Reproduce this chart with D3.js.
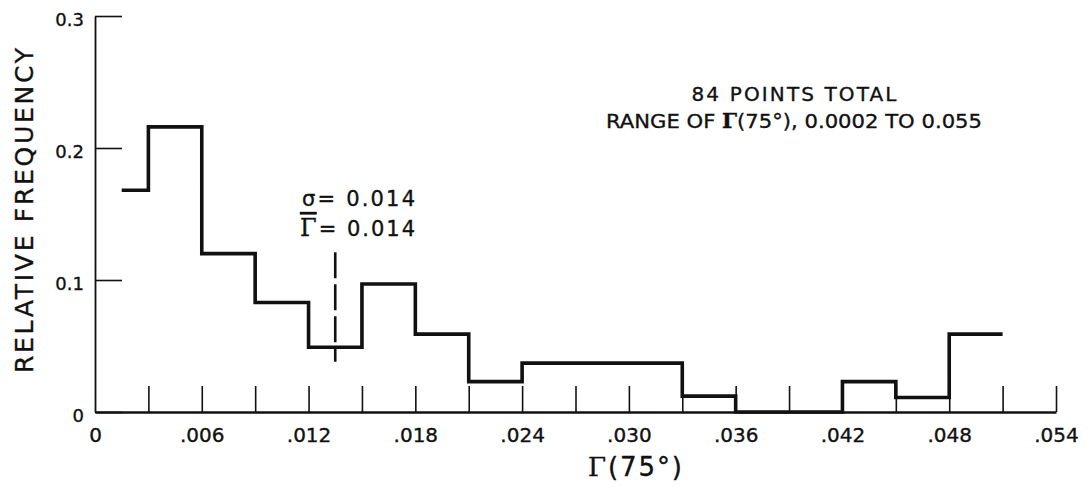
<!DOCTYPE html>
<html>
<head>
<meta charset="utf-8">
<script src="https://cdn.jsdelivr.net/npm/d3@7"></script>
<style>
  body { margin: 0; background: #fff; }
  svg text { font-family: "DejaVu Sans", sans-serif; fill: #111; stroke: #111; stroke-width: 0.35px; }
</style>
</head>
<body>
<svg id="chart" width="1091" height="487"></svg>
<script>
// bin left edges, the last entry is the right end of the final bin
const binEdges = [0.0015, 0.003, 0.006, 0.009, 0.012, 0.015, 0.018, 0.021, 0.024,
                  0.027, 0.030, 0.033, 0.036, 0.039, 0.042, 0.045, 0.048, 0.051];
// relative frequency for each bin
const relFreq = [0.168, 0.216, 0.120, 0.083, 0.049, 0.097, 0.059, 0.023, 0.037,
                 0.037, 0.037, 0.012, 0, 0, 0.023, 0.011, 0.059];

const xTicks = d3.range(1, 19).map(i => +(i * 0.003).toFixed(3));
const xLabels = [0, 0.006, 0.012, 0.018, 0.024, 0.030, 0.036, 0.042, 0.048, 0.054];
const yTicks = [0, 0.1, 0.2, 0.3];
const meanValue = 0.0135;   // where the dashed mean line sits
const notes = ["84 POINTS TOTAL", "RANGE OF ", "Γ", "(75°), 0.0002 TO 0.055"];

const svg = d3.select('#chart');

let x = d3.scaleLinear().domain([0, 0.054]).range([95, 1056]);
let y = d3.scaleLinear().domain([0, 0.3]).range([412, 16]);

// x axis: ticks every .003 pointing up, labels every .006
let xAxisTicks = d3.axisBottom(x).tickValues(xTicks).tickSize(-26)
    .tickSizeOuter(0).tickFormat('');
let gx = svg.append('g').attr('transform', 'translate(0,412)').call(xAxisTicks);
gx.select('.domain').attr('stroke-width', 2.4).attr('stroke', '#111');
gx.selectAll('.tick line').attr('stroke-width', 1.6).attr('stroke', '#111');

let xAxisLabels = d3.axisBottom(x).tickValues(xLabels).tickSize(0).tickPadding(16)
    .tickFormat(d => d === 0 ? '0' : d3.format('.3f')(d).replace(/^0/, ''));
let gxl = svg.append('g').attr('transform', 'translate(0,412)').call(xAxisLabels);
gxl.select('.domain').remove();
gxl.selectAll('text').attr('font-family', 'DejaVu Sans').attr('font-size', 20)
    .attr('fill', '#111');

// y axis: ticks pointing right
let yAxis = d3.axisLeft(y).tickValues(yTicks).tickSize(-27).tickSizeOuter(0)
    .tickPadding(11).tickFormat(d => d === 0 ? '0' : d3.format('.1f')(d));
let gy = svg.append('g').attr('transform', 'translate(95,0)').call(yAxis);
gy.select('.domain').attr('stroke-width', 1.8).attr('stroke', '#111');
gy.selectAll('.tick line').attr('stroke-width', 1.6).attr('stroke', '#111');
gy.selectAll('text').attr('font-family', 'DejaVu Sans').attr('font-size', 18)
    .attr('fill', '#111').attr('dy', '0.5em');

// histogram outline
let stepPts = relFreq.map((v, i) => [binEdges[i], v]);
stepPts.push([binEdges[binEdges.length - 1], relFreq[relFreq.length - 1]]);
let stepLine = d3.line().x(d => x(d[0])).y(d => y(d[1])).curve(d3.curveStepAfter);
svg.append('path').datum(stepPts)
    .attr('d', stepLine)
    .attr('fill', 'none').attr('stroke', '#111').attr('stroke-width', 3.6)
    .attr('stroke-linejoin', 'miter');

// dashed mean line
svg.append('line')
    .attr('x1', x(meanValue)).attr('x2', x(meanValue))
    .attr('y1', y(0.121)).attr('y2', y(0.038))
    .attr('stroke', '#111').attr('stroke-width', 2.6)
    .attr('stroke-dasharray', '26,6');

// sigma / mean labels
svg.append('text').attr('x', 302).attr('y', 206).attr('font-size', 21)
    .attr('textLength', 113).attr('lengthAdjust', 'spacing')
    .text('σ= 0.014');
let meanText = svg.append('text').attr('x', 300).attr('y', 236).attr('font-size', 21)
    .attr('textLength', 115).attr('lengthAdjust', 'spacing');
meanText.append('tspan').attr('font-family', 'DejaVu Serif').attr('font-size', 24)
    .style('text-decoration', 'overline').text('Γ');
meanText.append('tspan').text('= 0.014');

// top right notes
svg.append('text').attr('x', 794).attr('y', 101).attr('font-size', 20)
    .attr('text-anchor', 'middle')
    .attr('textLength', 205).attr('lengthAdjust', 'spacing')
    .text(notes[0]);
let rangeText = svg.append('text').attr('x', 794).attr('y', 128).attr('font-size', 20)
    .attr('text-anchor', 'middle')
    .attr('textLength', 376).attr('lengthAdjust', 'spacingAndGlyphs');
rangeText.append('tspan').text(notes[1]);
rangeText.append('tspan').attr('font-family', 'DejaVu Serif').attr('font-weight', 'bold').text(notes[2]);
rangeText.append('tspan').text(notes[3]);

// axis titles
svg.append('text')
    .attr('transform', 'translate(33,373) rotate(-90)')
    .attr('font-size', 25)
    .attr('textLength', 325).attr('lengthAdjust', 'spacing')
    .text('RELATIVE FREQUENCY');

let xTitle = svg.append('text').attr('x', 635).attr('y', 476)
    .attr('text-anchor', 'middle').attr('font-size', 26)
    .attr('textLength', 94).attr('lengthAdjust', 'spacing');
xTitle.append('tspan').attr('font-family', 'DejaVu Serif').text('Γ');
xTitle.append('tspan').text('(75°)');
</script>
</body>
</html>
